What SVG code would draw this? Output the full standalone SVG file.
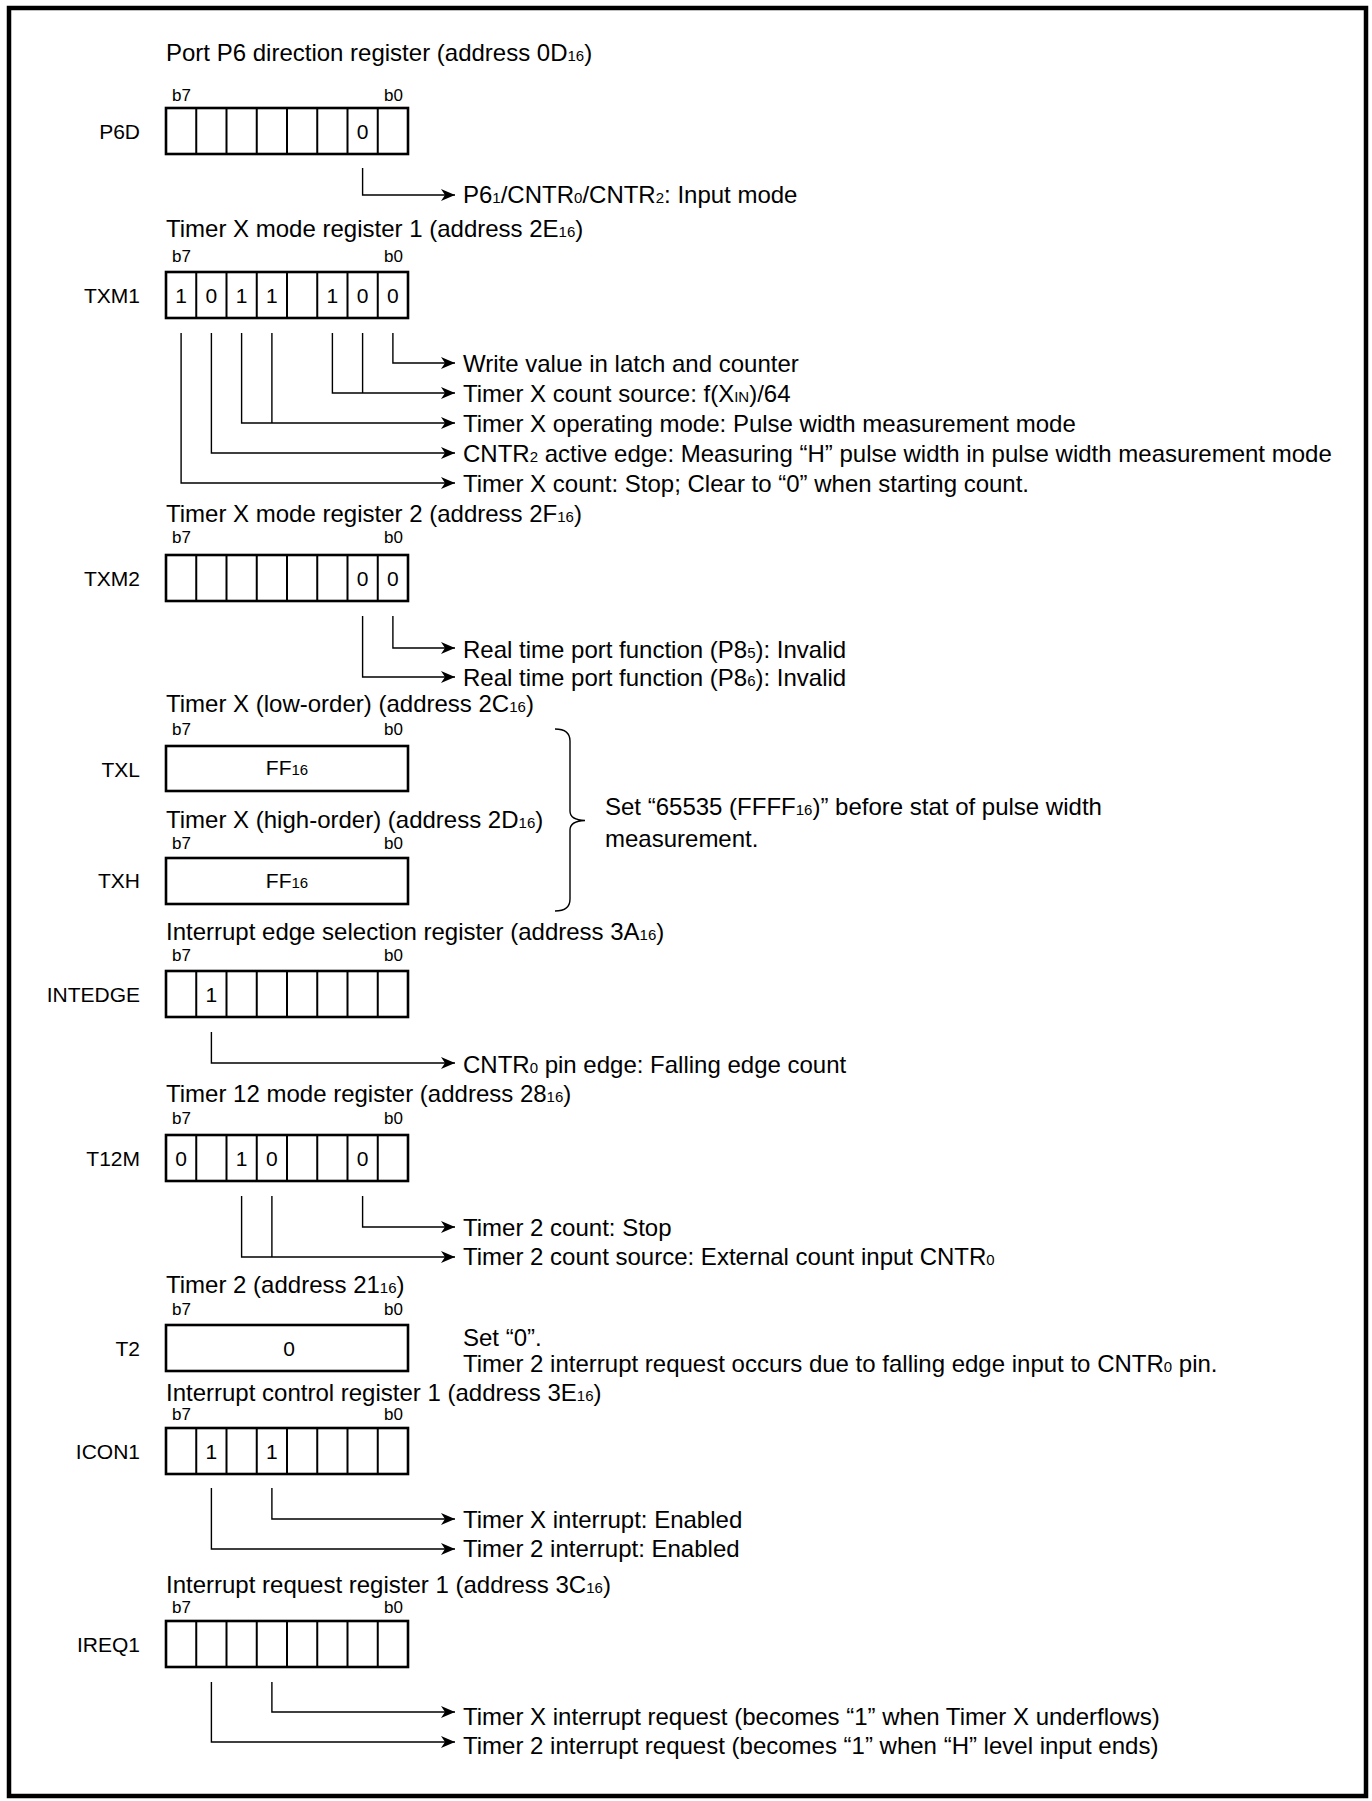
<svg xmlns="http://www.w3.org/2000/svg" xmlns:xlink="http://www.w3.org/1999/xlink" width="1372" height="1801" viewBox="0 0 1372 1801">
<style>
text{font-family:"Liberation Sans",Arial,Helvetica,sans-serif;fill:#000}
.t{font-size:24px}
.lbl{font-size:21px;text-anchor:end}
.b{font-size:17px}
.v{font-size:21px;text-anchor:middle}
.s{font-size:15px}
.box{fill:none;stroke:#000;stroke-width:2.6}
.div{fill:none;stroke:#000;stroke-width:2}
.cn{fill:none;stroke:#000;stroke-width:1.4}
</style>
<defs>
<marker id="ah" markerUnits="userSpaceOnUse" markerWidth="15" markerHeight="12" refX="14" refY="6" orient="auto">
<path d="M0,0 L14,6 L0,12 L4,6 z" fill="#000"/>
</marker>
<g id="reg8">
<rect class="box" x="0" y="0" width="242" height="46"/>
<path class="div" d="M30.25,0V46M60.5,0V46M90.75,0V46M121,0V46M151.25,0V46M181.5,0V46M211.75,0V46"/>
</g>
<g id="bits"><text class="b" x="6" y="0">b7</text><text class="b" x="218" y="0">b0</text></g>
</defs>
<rect x="9" y="8" width="1357" height="1788" fill="none" stroke="#000" stroke-width="4.5"/>

<g id="P6D">
<text class="t" x="166" y="61">Port P6 direction register (address 0D<tspan class="s">16</tspan>)</text>
<use xlink:href="#bits" x="166" y="101"/>
<use xlink:href="#reg8" x="166" y="108"/>
<text class="lbl" x="140" y="139">P6D</text>
<text class="v" x="362.6" y="139">0</text>
<text class="t" x="463" y="203">P6<tspan class="s">1</tspan>/CNTR<tspan class="s">0</tspan>/CNTR<tspan class="s">2</tspan>: Input mode</text>
</g>

<g id="TXM1">
<text class="t" x="166" y="237">Timer X mode register 1 (address 2E<tspan class="s">16</tspan>)</text>
<use xlink:href="#bits" x="166" y="262"/>
<use xlink:href="#reg8" x="166" y="272"/>
<text class="lbl" x="140" y="303">TXM1</text>
<text class="v" x="181.1" y="303">1</text>
<text class="v" x="211.4" y="303">0</text>
<text class="v" x="241.6" y="303">1</text>
<text class="v" x="271.9" y="303">1</text>
<text class="v" x="332.4" y="303">1</text>
<text class="v" x="362.6" y="303">0</text>
<text class="v" x="392.9" y="303">0</text>
<text class="t" x="463" y="372">Write value in latch and counter</text>
<text class="t" x="463" y="402">Timer X count source: f(X<tspan class="s">IN</tspan>)/64</text>
<text class="t" x="463" y="432">Timer X operating mode: Pulse width measurement mode</text>
<text class="t" x="463" y="462">CNTR<tspan class="s">2</tspan> active edge: Measuring “H” pulse width in pulse width measurement mode</text>
<text class="t" x="463" y="492">Timer X count: Stop; Clear to “0” when starting count.</text>
</g>

<g id="TXM2">
<text class="t" x="166" y="522">Timer X mode register 2 (address 2F<tspan class="s">16</tspan>)</text>
<use xlink:href="#bits" x="166" y="543"/>
<use xlink:href="#reg8" x="166" y="555"/>
<text class="lbl" x="140" y="586">TXM2</text>
<text class="v" x="362.6" y="586">0</text>
<text class="v" x="392.9" y="586">0</text>
<text class="t" x="463" y="658">Real time port function (P8<tspan class="s">5</tspan>): Invalid</text>
<text class="t" x="463" y="686">Real time port function (P8<tspan class="s">6</tspan>): Invalid</text>
</g>

<g id="TXL">
<text class="t" x="166" y="712">Timer X (low-order) (address 2C<tspan class="s">16</tspan>)</text>
<use xlink:href="#bits" x="166" y="735"/>
<rect class="box" x="166" y="746" width="242" height="45"/>
<text class="lbl" x="140" y="777">TXL</text>
<text class="v" x="287" y="775">FF<tspan class="s">16</tspan></text>
</g>

<g id="TXH">
<text class="t" x="166" y="828">Timer X (high-order) (address 2D<tspan class="s">16</tspan>)</text>
<use xlink:href="#bits" x="166" y="849"/>
<rect class="box" x="166" y="858" width="242" height="46"/>
<text class="lbl" x="140" y="888">TXH</text>
<text class="v" x="287" y="888">FF<tspan class="s">16</tspan></text>
</g>

<g id="brace-note">
<path class="cn" d="M555,729 Q570,729 570,741 L570,811 Q570,820 585,820.5 Q570,821 570,830 L570,899 Q570,911 555,911"/>
<text class="t" x="605" y="815">Set “65535 (FFFF<tspan class="s">16</tspan>)” before stat of pulse width</text>
<text class="t" x="605" y="847">measurement.</text>
</g>

<g id="INTEDGE">
<text class="t" x="166" y="940">Interrupt edge selection register (address 3A<tspan class="s">16</tspan>)</text>
<use xlink:href="#bits" x="166" y="961"/>
<use xlink:href="#reg8" x="166" y="971"/>
<text class="lbl" x="140" y="1002">INTEDGE</text>
<text class="v" x="211.4" y="1002">1</text>
<text class="t" x="463" y="1073">CNTR<tspan class="s">0</tspan> pin edge: Falling edge count</text>
</g>

<g id="T12M">
<text class="t" x="166" y="1102">Timer 12 mode register (address 28<tspan class="s">16</tspan>)</text>
<use xlink:href="#bits" x="166" y="1124"/>
<use xlink:href="#reg8" x="166" y="1135"/>
<text class="lbl" x="140" y="1166">T12M</text>
<text class="v" x="181.1" y="1166">0</text>
<text class="v" x="241.6" y="1166">1</text>
<text class="v" x="271.9" y="1166">0</text>
<text class="v" x="362.6" y="1166">0</text>
<text class="t" x="463" y="1236">Timer 2 count: Stop</text>
<text class="t" x="463" y="1265">Timer 2 count source: External count input CNTR<tspan class="s">0</tspan></text>
</g>

<g id="T2">
<text class="t" x="166" y="1293">Timer 2 (address 21<tspan class="s">16</tspan>)</text>
<use xlink:href="#bits" x="166" y="1315"/>
<rect class="box" x="166" y="1325" width="242" height="46"/>
<text class="lbl" x="140" y="1356">T2</text>
<text class="v" x="289" y="1356">0</text>
<text class="t" x="463" y="1346">Set “0”.</text>
<text class="t" x="463" y="1372">Timer 2 interrupt request occurs due to falling edge input to CNTR<tspan class="s">0</tspan> pin.</text>
</g>

<g id="ICON1">
<text class="t" x="166" y="1401">Interrupt control register 1 (address 3E<tspan class="s">16</tspan>)</text>
<use xlink:href="#bits" x="166" y="1420"/>
<use xlink:href="#reg8" x="166" y="1428"/>
<text class="lbl" x="140" y="1459">ICON1</text>
<text class="v" x="211.4" y="1459">1</text>
<text class="v" x="271.9" y="1459">1</text>
<text class="t" x="463" y="1528">Timer X interrupt: Enabled</text>
<text class="t" x="463" y="1557">Timer 2 interrupt: Enabled</text>
</g>

<g id="IREQ1">
<text class="t" x="166" y="1593">Interrupt request register 1 (address 3C<tspan class="s">16</tspan>)</text>
<use xlink:href="#bits" x="166" y="1613"/>
<use xlink:href="#reg8" x="166" y="1621"/>
<text class="lbl" x="140" y="1652">IREQ1</text>
<text class="t" x="463" y="1725">Timer X interrupt request (becomes “1” when Timer X underflows)</text>
<text class="t" x="463" y="1754">Timer 2 interrupt request (becomes “1” when “H” level input ends)</text>
</g>

<g id="connectors" class="cn" marker-end="url(#ah)">
<path d="M362.6,168V195H455"/>
<path d="M392.9,333V363H455"/>
<path d="M362.6,333V393M332.4,333V393H455"/>
<path d="M271.9,333V423M241.6,333V423H455"/>
<path d="M211.4,333V453H455"/>
<path d="M181.1,333V483H455"/>
<path d="M392.9,616V648H455"/>
<path d="M362.6,616V677H455"/>
<path d="M211.4,1032V1063H455"/>
<path d="M362.6,1196V1227H455"/>
<path d="M271.9,1196V1257M241.6,1196V1257H455"/>
<path d="M271.9,1488V1519H455"/>
<path d="M211.4,1488V1549H455"/>
<path d="M271.9,1682V1712H455"/>
<path d="M211.4,1682V1742H455"/>
</g>
</svg>
